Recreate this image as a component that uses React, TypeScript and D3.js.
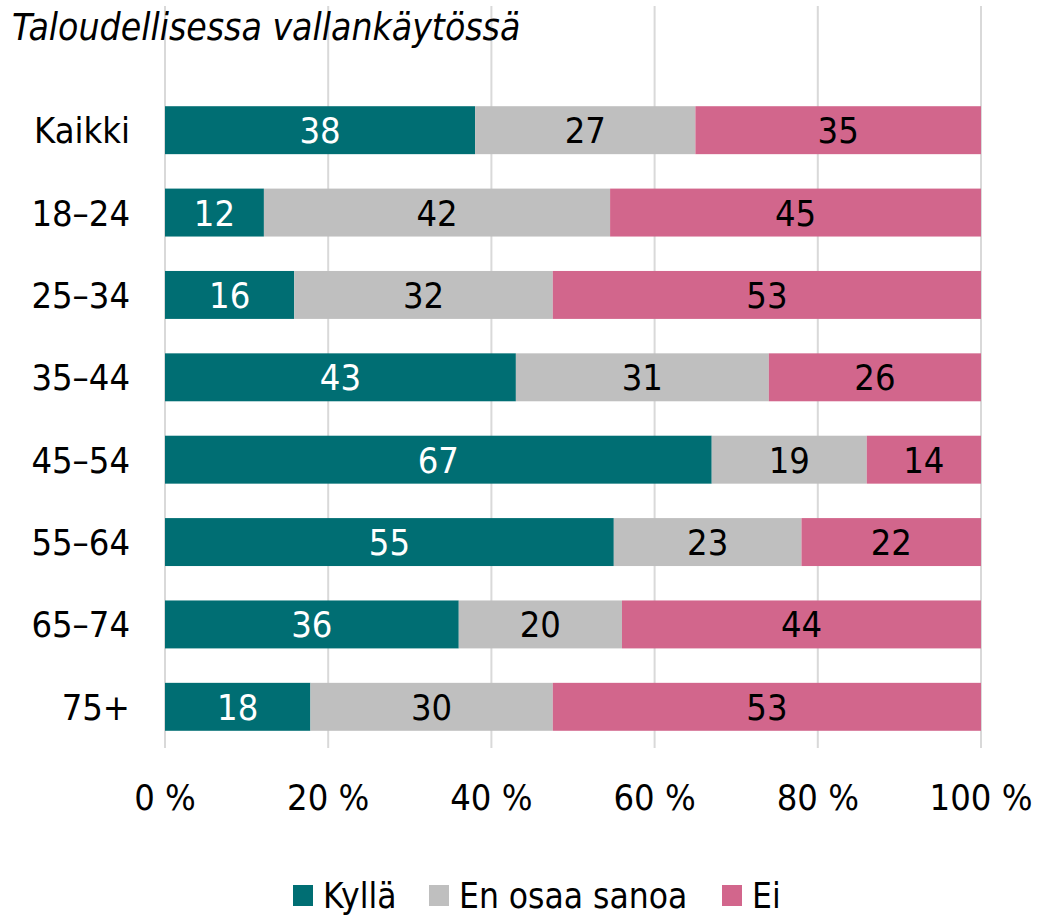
import React, { useEffect, useRef } from 'react';
import * as d3 from 'd3';

const title = 'Taloudellisessa vallankäytössä';
const groups = ['Kaikki', '18–24', '25–34', '35–44', '45–54', '55–64', '65–74', '75+'];
const seriesNames = ['Kyllä', 'En osaa sanoa', 'Ei'];
const kylla = [38, 12, 16, 43, 67, 55, 36, 18];
const enOsaa = [27, 42, 32, 31, 19, 23, 20, 30];
const ei = [35, 45, 53, 26, 14, 22, 44, 53];
const tickValues = [0, 20, 40, 60, 80, 100];
const colors = ['#006e73', '#bfbfbf', '#d2668c'];
const labelColors = ['#ffffff', '#000000', '#000000'];

const FONT = '"DejaVu Sans Condensed", "DejaVu Sans", sans-serif';

const App = () => {
  const svgRef = useRef<SVGSVGElement | null>(null);
  const width = 1063;
  const height = 918;

  useEffect(() => {
    const svg = d3.select(svgRef.current);
    svg.selectAll('*').remove();

    const x = d3.scaleLinear().domain([0, 100]).range([165, 981]);
    const y = d3.scaleBand()
      .domain(groups)
      .range([89, 748])
      .paddingInner(0.418)
      .paddingOuter(0.209);

    // gridlines
    svg.append('g')
      .selectAll('line')
      .data(tickValues)
      .enter()
      .append('line')
      .attr('x1', d => x(d))
      .attr('x2', d => x(d))
      .attr('y1', 6)
      .attr('y2', 748)
      .attr('stroke', '#d9d9d9')
      .attr('stroke-width', 2);

    // title
    svg.append('text')
      .attr('x', 12)
      .attr('y', 40)
      .style('font-family', FONT)
      .style('font-style', 'italic')
      .style('font-size', '37px')
      .text(title);

    // stacked rows, each normalised to 100 %
    const rows = groups.map((g, i) => {
      const vals = [kylla[i], enOsaa[i], ei[i]];
      const total = d3.sum(vals);
      let acc = 0;
      return vals.map((v, k) => {
        const start = acc / total * 100;
        acc += v;
        return { group: g, k, value: v, x0: start, x1: acc / total * 100 };
      });
    });

    const barG = svg.append('g');
    rows.forEach(segs => {
      barG.selectAll(null)
        .data(segs)
        .enter()
        .append('rect')
        .attr('x', d => x(d.x0))
        .attr('y', d => y(d.group))
        .attr('width', d => x(d.x1) - x(d.x0))
        .attr('height', y.bandwidth())
        .attr('fill', d => colors[d.k]);

      barG.selectAll(null)
        .data(segs)
        .enter()
        .append('text')
        .attr('x', d => (x(d.x0) + x(d.x1)) / 2)
        .attr('y', d => y(d.group) + y.bandwidth() / 2)
        .attr('dy', '0.36em')
        .attr('text-anchor', 'middle')
        .attr('fill', d => labelColors[d.k])
        .style('font-family', FONT)
        .style('font-size', '36px')
        .text(d => d.value);
    });

    // category labels
    svg.append('g')
      .selectAll('text')
      .data(groups)
      .enter()
      .append('text')
      .attr('x', 130)
      .attr('y', d => y(d) + y.bandwidth() / 2)
      .attr('dy', '0.36em')
      .attr('text-anchor', 'end')
      .style('font-family', FONT)
      .style('font-size', '36px')
      .text(d => d);

    // x tick labels
    svg.append('g')
      .selectAll('text')
      .data(tickValues)
      .enter()
      .append('text')
      .attr('x', d => x(d))
      .attr('y', 810)
      .attr('text-anchor', 'middle')
      .style('font-family', FONT)
      .style('font-size', '36px')
      .text(d => `${d} %`);

    // legend (kept just above the bottom edge so descenders are not clipped)
    const legendX = [293, 429, 722];
    const legend = svg.append('g');
    seriesNames.forEach((name, i) => {
      legend.append('rect')
        .attr('x', legendX[i])
        .attr('y', 885)
        .attr('width', 20)
        .attr('height', 21)
        .attr('fill', colors[i]);
      legend.append('text')
        .attr('x', legendX[i] + 30)
        .attr('y', 908)
        .style('font-family', FONT)
        .style('font-size', '35px')
        .text(name);
    });
  }, []);

  return (
    <svg
      ref={svgRef}
      width={width}
      height={height}
      style={{ position: 'absolute', left: 0, top: 0, display: 'block', background: '#fff' }}
    />
  );
};

export default App;
